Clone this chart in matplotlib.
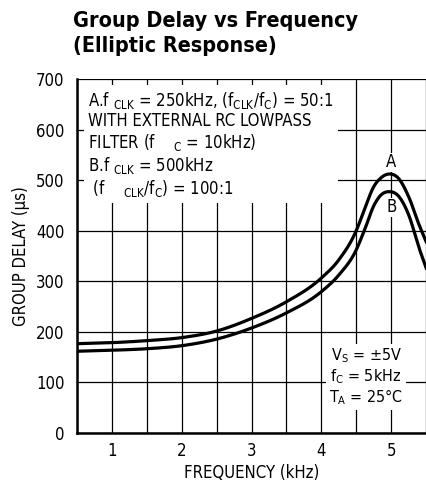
import numpy as np
import matplotlib.pyplot as plt

# condensed sans to get close to the datasheet look
plt.rcParams["font.family"] = ["DejaVu Sans"]
plt.rcParams["font.stretch"] = "condensed"
plt.rcParams["mathtext.fontset"] = "custom"
plt.rcParams["mathtext.rm"] = "DejaVu Sans:stretch=condensed"
plt.rcParams["mathtext.it"] = "DejaVu Sans:stretch=condensed"

# values (kHz, us)
freq = [0.5, 1.0, 1.5, 2.0, 2.5, 3.0, 3.5, 4.0, 4.25, 4.5, 4.62, 4.75, 4.85, 4.97, 5.1, 5.25, 5.4, 5.5]
delay_a = [176, 178, 182, 188, 201, 226, 259, 306, 342, 400, 443, 487, 504, 512, 504, 467, 411, 378]
delay_b = [161, 163, 166, 172, 185, 207, 237, 279, 312, 362, 402, 449, 470, 477, 469, 431, 365, 326]

x_ticks = [1, 2, 3, 4, 5]
y_ticks = [0, 100, 200, 300, 400, 500, 600, 700]


def hermite(x, y, xs):
    # cubic hermite through the read points, just for a smooth stroke
    x = np.asarray(x, float)
    y = np.asarray(y, float)
    m = np.gradient(y, x)
    i = np.clip(np.searchsorted(x, xs) - 1, 0, len(x) - 2)
    h = x[i + 1] - x[i]
    t = (xs - x[i]) / h
    h00 = 2*t**3 - 3*t**2 + 1
    h10 = t**3 - 2*t**2 + t
    h01 = -2*t**3 + 3*t**2
    h11 = t**3 - t**2
    return h00*y[i] + h10*h*m[i] + h01*y[i+1] + h11*h*m[i+1]


fig = plt.figure(figsize=(4.27, 4.91), dpi=100)
ax = fig.add_axes([0.18, 0.119, 0.818, 0.72])

xs = np.linspace(freq[0], freq[-1], 400)
ax.plot(xs, hermite(freq, delay_a, xs), color="black", lw=2.3, zorder=4)
ax.plot(xs, hermite(freq, delay_b, xs), color="black", lw=2.3, zorder=4)

ax.set_xlim(0.5, 5.5)
ax.set_ylim(0, 700)
ax.set_xticks(x_ticks)
ax.set_yticks(y_ticks)
ax.set_xticks(np.arange(0.5, 5.6, 0.5), minor=True)
ax.tick_params(which="both", length=0, labelsize=12)
ax.tick_params(axis="x", pad=7)
ax.tick_params(axis="y", pad=9)
ax.grid(which="both", axis="x", color="black", lw=0.9)
ax.grid(which="major", axis="y", color="black", lw=0.9)
ax.set_axisbelow(True)
for s in ["top", "right"]:
    ax.spines[s].set_visible(False)
for s in ["left", "bottom"]:
    ax.spines[s].set_linewidth(1.8)
    ax.spines[s].set_zorder(5)

ax.set_xlabel("FREQUENCY (kHz)", fontsize=12, labelpad=3)
ax.set_ylabel("GROUP DELAY (µs)", fontsize=12, labelpad=4)

note = ("A.f $_{\\mathrm{CLK}}$ = 250kHz, (f$_{\\mathrm{CLK}}$/f$_{\\mathrm{C}}$) = 50:1\n"
        "WITH EXTERNAL RC LOWPASS\n"
        "FILTER (f    $_{\\mathrm{C}}$ = 10kHz)\n"
        "B.f $_{\\mathrm{CLK}}$ = 500kHz\n"
        " (f    $_{\\mathrm{CLK}}$/f$_{\\mathrm{C}}$) = 100:1")
ax.text(0.66, 679, note, fontsize=12, va="top", ha="left", linespacing=1.12,
        bbox=dict(facecolor="white", edgecolor="none", pad=3), zorder=3)

cond = "V$_{\\mathrm{S}}$ = ±5V\nf$_{\\mathrm{C}}$ = 5kHz\nT$_{\\mathrm{A}}$ = 25°C"
ax.text(4.64, 110, cond, fontsize=11.5, va="center", ha="center", linespacing=1.12,
        bbox=dict(facecolor="white", edgecolor="none", pad=2), zorder=3)

ax.text(5.0, 535, "A", fontsize=12, ha="center", va="center",
        bbox=dict(facecolor="white", edgecolor="none", pad=0.5), zorder=3)
ax.text(5.0, 446, "B", fontsize=12, ha="center", va="center",
        bbox=dict(facecolor="white", edgecolor="none", pad=0.5), zorder=3)

fig.text(0.17, 0.978, "Group Delay vs Frequency\n(Elliptic Response)", fontsize=15.5,
         fontweight="bold", va="top", ha="left", linespacing=1.3)

fig.savefig("out.png", dpi=100)
